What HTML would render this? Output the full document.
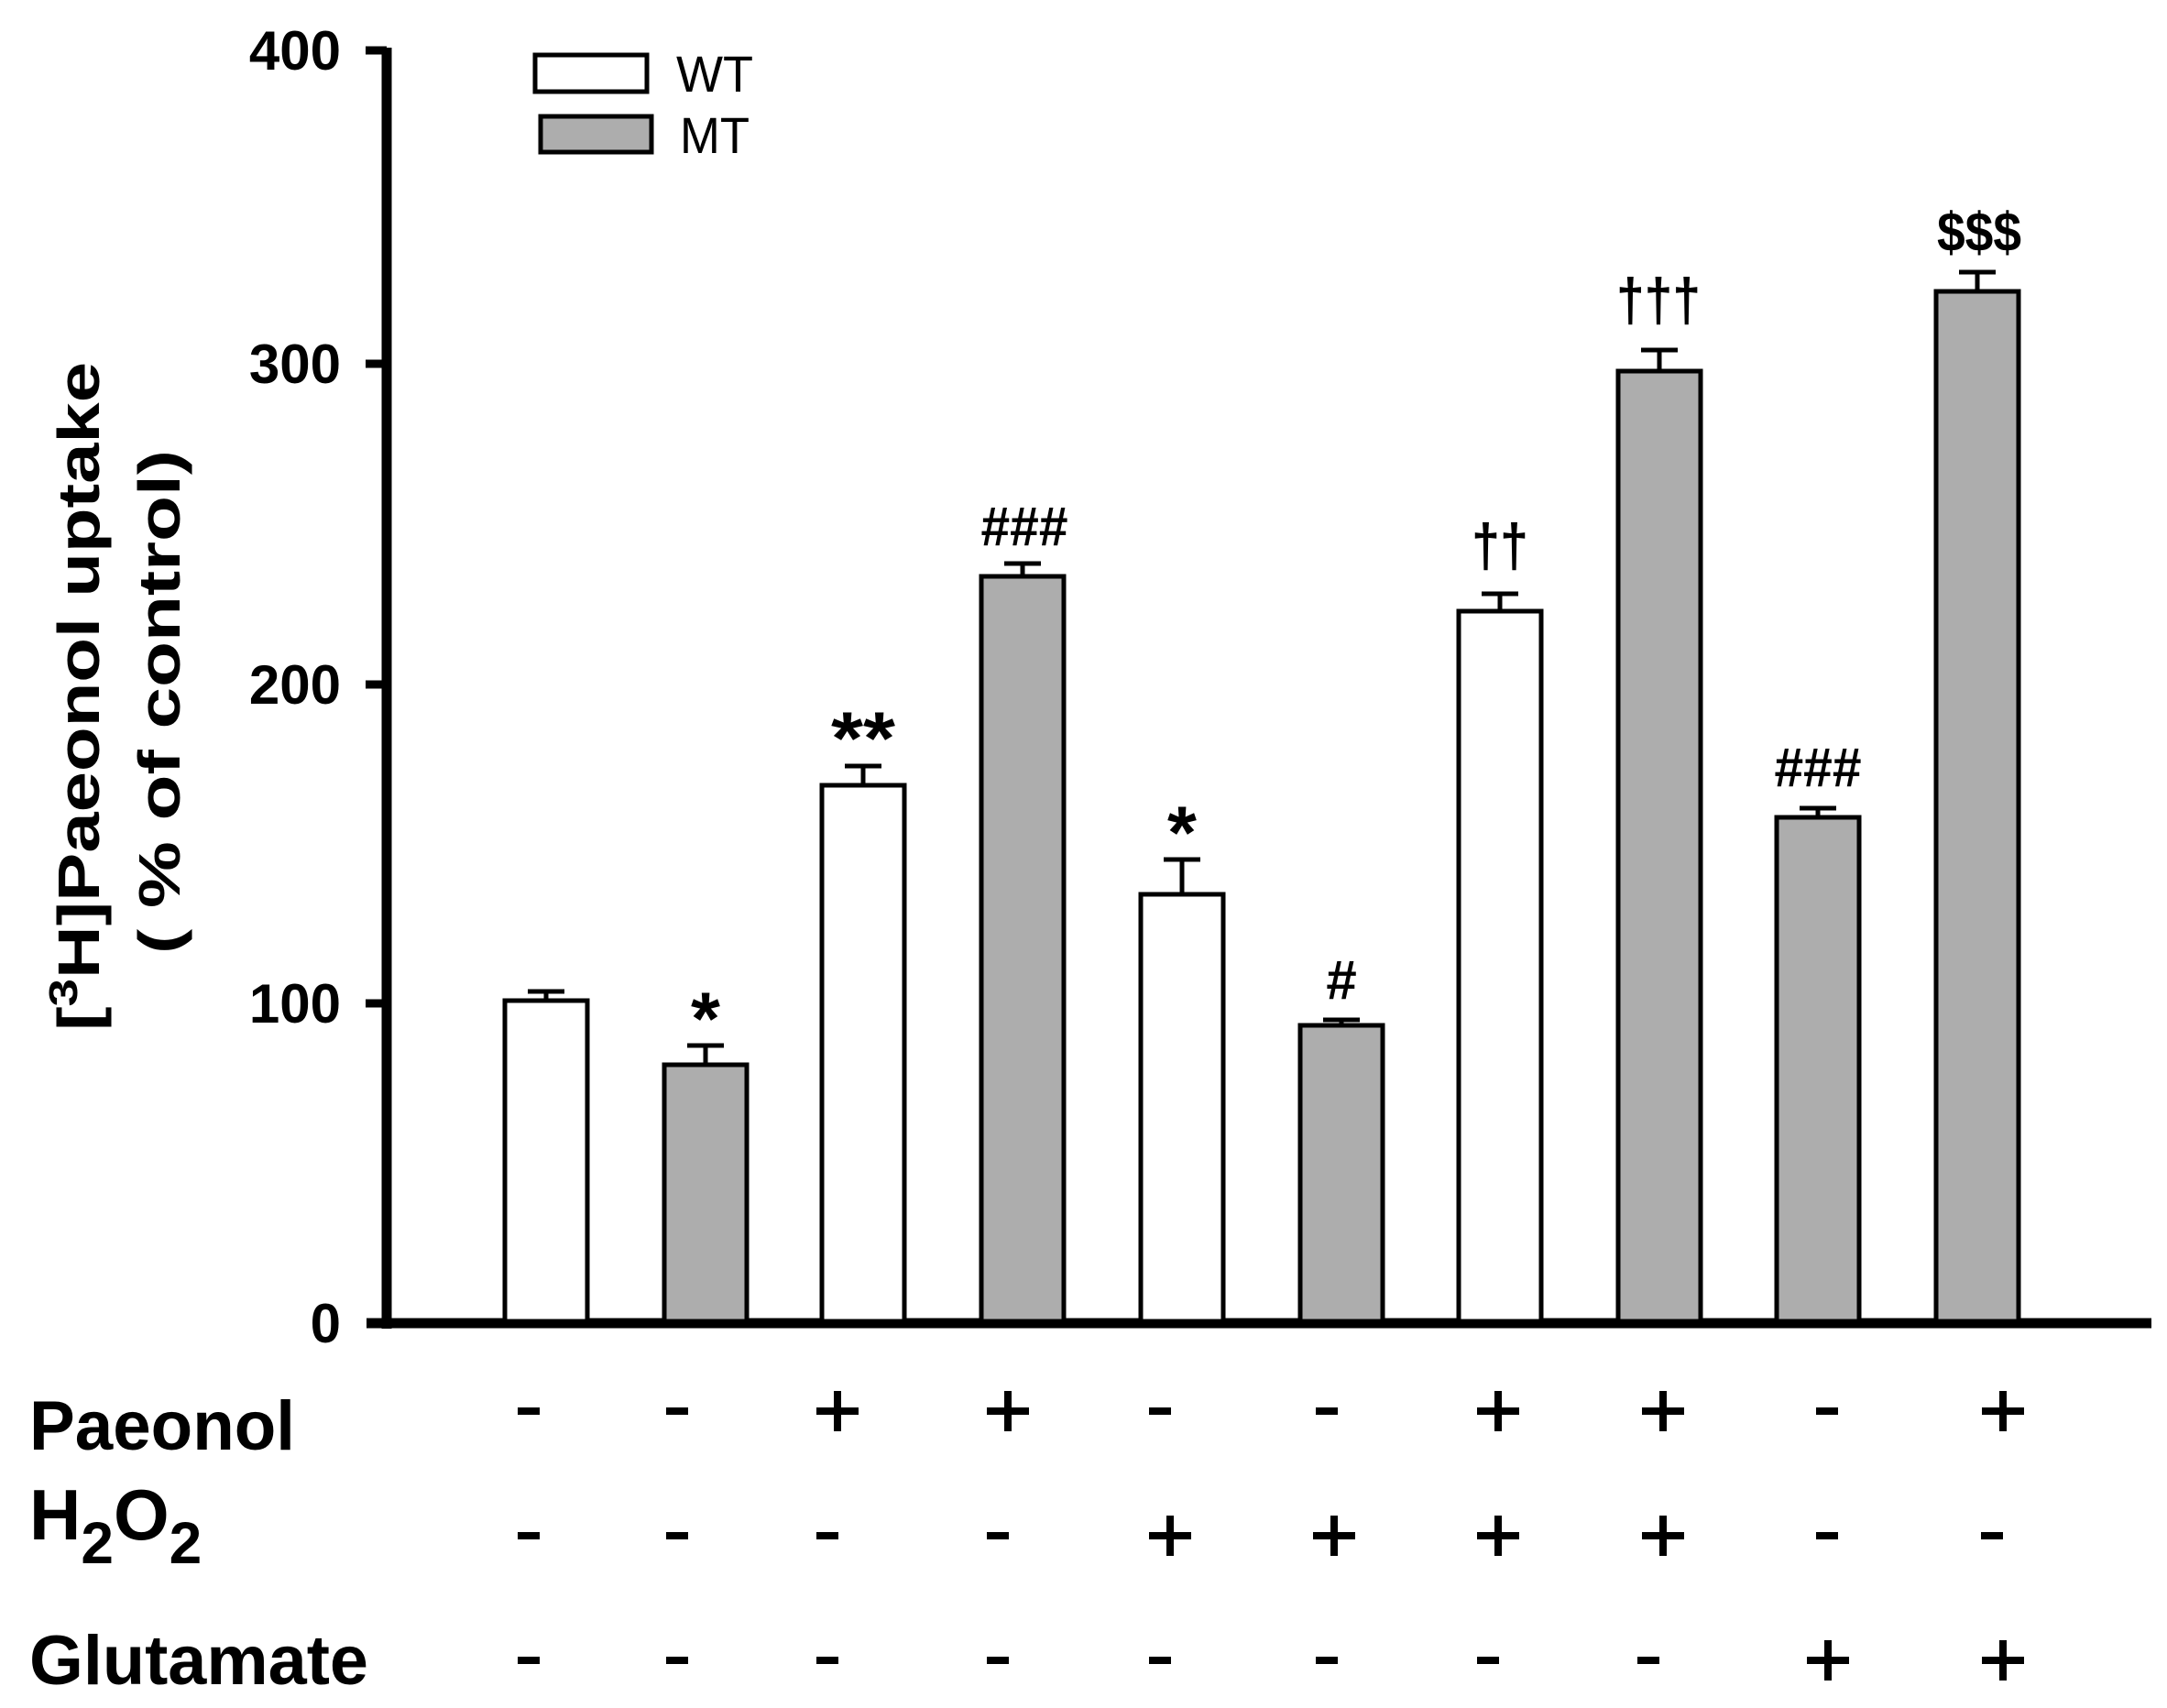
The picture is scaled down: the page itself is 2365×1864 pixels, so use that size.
<!DOCTYPE html>
<html><head><meta charset="utf-8"><style>
html,body{margin:0;padding:0;background:#fff;}
svg{display:block;}
text{font-family:"Liberation Sans",Arial,sans-serif;font-weight:bold;fill:#000;}
</style></head><body>
<svg width="2365" height="1864" viewBox="0 0 2365 1864" xmlns="http://www.w3.org/2000/svg">
<!-- axes -->
<line x1="422" y1="52" x2="422" y2="1450" stroke="#000" stroke-width="11"/>
<line x1="400" y1="1444" x2="2348" y2="1444" stroke="#000" stroke-width="11"/>
<g stroke="#000" stroke-width="9">
<line x1="399" y1="55" x2="422" y2="55"/>
<line x1="399" y1="397" x2="422" y2="397"/>
<line x1="399" y1="747" x2="422" y2="747"/>
<line x1="399" y1="1095" x2="422" y2="1095"/>
</g>
<g font-size="60" text-anchor="end">
<text x="372" y="76">400</text>
<text x="372" y="418">300</text>
<text x="372" y="768">200</text>
<text x="372" y="1116">100</text>
<text x="372" y="1465">0</text>
</g>
<!-- y label -->
<text transform="translate(108,760) rotate(-90)" font-size="64" text-anchor="middle" textLength="730" lengthAdjust="spacingAndGlyphs">[<tspan font-size="44" dy="-24">3</tspan><tspan dy="24">H]Paeonol uptake</tspan></text>
<text transform="translate(196,766) rotate(-90)" font-size="64" text-anchor="middle" textLength="550" lengthAdjust="spacingAndGlyphs">( % of control)</text>
<!-- legend -->
<rect x="584" y="60" width="122" height="40" fill="#fff" stroke="#000" stroke-width="5"/>
<rect x="590" y="127" width="121" height="39" fill="#adadad" stroke="#000" stroke-width="5"/>
<text x="738" y="100" font-size="56" style="font-weight:normal" textLength="84" lengthAdjust="spacingAndGlyphs">WT</text>
<text x="742" y="167" font-size="56" style="font-weight:normal" textLength="76" lengthAdjust="spacingAndGlyphs">MT</text>
<!-- bars -->
<g stroke="#000" stroke-width="5">
<rect x="551" y="1092" width="90" height="350" fill="#fff"/>
<rect x="725" y="1162" width="90" height="280" fill="#adadad"/>
<rect x="897" y="857" width="90" height="585" fill="#fff"/>
<rect x="1071" y="629" width="90" height="813" fill="#adadad"/>
<rect x="1245" y="976" width="90" height="466" fill="#fff"/>
<rect x="1419" y="1119" width="90" height="323" fill="#adadad"/>
<rect x="1592" y="667" width="90" height="775" fill="#fff"/>
<rect x="1766" y="405" width="90" height="1037" fill="#adadad"/>
<rect x="1939" y="892" width="90" height="550" fill="#adadad"/>
<rect x="2113" y="318" width="90" height="1124" fill="#adadad"/>
</g>
<!-- error bars -->
<g stroke="#000" stroke-width="5" fill="none">
<path d="M596 1092V1082M576 1082H616"/>
<path d="M770 1162V1141M750 1141H790"/>
<path d="M942 857V836M922 836H962"/>
<path d="M1116 629V615M1096 615H1136"/>
<path d="M1290 976V938M1270 938H1310"/>
<path d="M1464 1119V1113M1444 1113H1484"/>
<path d="M1637 667V648M1617 648H1657"/>
<path d="M1811 405V382M1791 382H1831"/>
<path d="M1984 892V882M1964 882H2004"/>
<path d="M2158 318V297M2138 297H2178"/>
</g>
<!-- annotations -->
<g text-anchor="middle">
<text x="770" y="1140" font-size="82">*</text>
<text x="942" y="834" font-size="82" textLength="70" lengthAdjust="spacingAndGlyphs">**</text>
<text x="1118" y="595" font-size="60" textLength="95" lengthAdjust="spacingAndGlyphs">###</text>
<text x="1290" y="937" font-size="82">*</text>
<text x="1464" y="1090" font-size="60">#</text>
<text x="1637" y="618" font-size="66" textLength="62" lengthAdjust="spacingAndGlyphs">††</text>
<text x="1810" y="350" font-size="66" textLength="92" lengthAdjust="spacingAndGlyphs">†††</text>
<text x="1984" y="858" font-size="60" textLength="95" lengthAdjust="spacingAndGlyphs">###</text>
<text x="2160" y="274" font-size="60" textLength="92" lengthAdjust="spacingAndGlyphs">$$$</text>
</g>
<!-- row labels -->
<text x="32" y="1582" font-size="76" textLength="290" lengthAdjust="spacingAndGlyphs">Paeonol</text>
<text x="32" y="1680" font-size="78">H<tspan font-size="64" dy="26">2</tspan><tspan dy="-26">O</tspan><tspan font-size="64" dy="26">2</tspan></text>
<text x="32" y="1838" font-size="76" textLength="370" lengthAdjust="spacingAndGlyphs">Glutamate</text>
<!-- +/- signs -->
<g stroke="#000" stroke-width="8" fill="none">
<path d="M565 1540h24M727 1540h24"/>
<path d="M891 1540h46M914 1518v44"/>
<path d="M1077 1540h46M1100 1518v44"/>
<path d="M1254 1540h24M1436 1540h24"/>
<path d="M1612 1540h46M1635 1518v44"/>
<path d="M1792 1540h46M1815 1518v44"/>
<path d="M1982 1540h24"/>
<path d="M2163 1540h46M2186 1518v44"/>
<path d="M565 1676h24M727 1676h24M891 1676h24M1077 1676h24"/>
<path d="M1254 1676h46M1277 1654v44"/>
<path d="M1433 1676h46M1456 1654v44"/>
<path d="M1612 1676h46M1635 1654v44"/>
<path d="M1792 1676h46M1815 1654v44"/>
<path d="M1982 1676h24M2162 1676h24"/>
<path d="M565 1812h24M727 1812h24M891 1812h24M1077 1812h24M1254 1812h24M1436 1812h24M1612 1812h24M1787 1812h24"/>
<path d="M1972 1812h46M1995 1790v44"/>
<path d="M2163 1812h46M2186 1790v44"/>
</g>
</svg>
</body></html>
